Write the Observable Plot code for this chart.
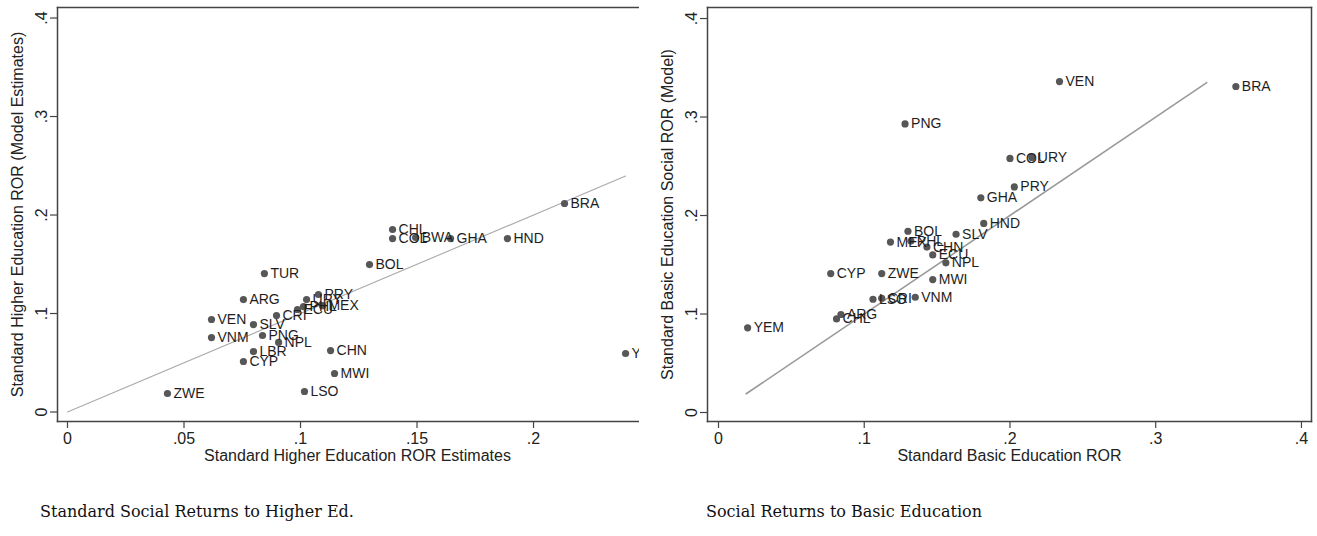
<!DOCTYPE html>
<html>
<head>
<meta charset="utf-8">
<script src="https://cdn.jsdelivr.net/npm/d3@7"></script>
<script src="https://cdn.jsdelivr.net/npm/@observablehq/plot@0.6"></script>
<style>
  html, body { margin: 0; padding: 0; background: #fff; width: 1317px; height: 536px; overflow: hidden; }
  #left { position: absolute; left: 0; top: 0; width: 639px; height: 480px; overflow: hidden; }
  #right { position: absolute; left: 660px; top: 0; width: 657px; height: 480px; overflow: hidden; }
  #left svg, #right svg { max-width: none !important; display: block; }
  .cap { position: absolute; font-family: "DejaVu Serif", serif; font-size: 16px; color: #111; white-space: nowrap; }
</style>
</head>
<body>
<div id="left"></div>
<div id="right"></div>
<div class="cap" style="left:40px; top:502px;">Standard Social Returns to Higher Ed.</div>
<div class="cap" style="left:706px; top:502px;">Social Returns to Basic Education</div>
<script>
// ---- Left panel: Higher education ----
const leftCountries = ["ZWE","LSO","MWI","CHN","CYP","LBR","NPL","PNG","VNM","VEN","SLV","CRI","ECU","PHL","MEX","URY","PRY","ARG","TUR","BOL","CHL","COL","BWA","GHA","HND","BRA","YEM"];
const leftX = [0.0429,0.1017,0.1146,0.1129,0.0755,0.0798,0.0906,0.0837,0.0618,0.0618,0.0798,0.0897,0.0987,0.1013,0.1094,0.1026,0.1077,0.0755,0.0845,0.1296,0.1395,0.1395,0.1494,0.1644,0.1888,0.2133,0.2395];
const leftY = [0.0188,0.0208,0.0391,0.0624,0.0513,0.0614,0.0706,0.0777,0.0756,0.0939,0.0888,0.0980,0.1041,0.1070,0.1080,0.1142,0.1193,0.1142,0.1406,0.1497,0.1853,0.1761,0.1772,0.1761,0.1761,0.2117,0.0594];
const leftXTicks = [0, 0.05, 0.1, 0.15, 0.2, 0.25];
const leftLineX = [0, 0.2395];
const leftLineY = [0, 0.2395];
const leftXTitle = "Standard Higher Education ROR Estimates";
const leftYTitle = "Standard Higher Education ROR (Model Estimates)";

// ---- Right panel: Basic education ----
const rightCountries = ["VEN","BRA","PNG","COL","URY","PRY","GHA","HND","SLV","BOL","PHL","MEX","CHN","ECU","NPL","CYP","ZWE","MWI","LSO","CRI","VNM","ARG","CHL","YEM"];
const rightX = [0.234,0.355,0.128,0.200,0.215,0.203,0.180,0.182,0.163,0.130,0.132,0.118,0.143,0.147,0.156,0.077,0.112,0.147,0.106,0.112,0.135,0.084,0.081,0.020];
const rightY = [0.336,0.331,0.293,0.258,0.259,0.229,0.218,0.192,0.181,0.184,0.174,0.173,0.168,0.160,0.152,0.141,0.141,0.135,0.115,0.116,0.117,0.0995,0.095,0.086];
const rightXTicks = [0, 0.1, 0.2, 0.3, 0.4];
const rightLineX = [0.019, 0.335];
const rightLineY = [0.019, 0.335];
const rightXTitle = "Standard Basic Education ROR";
const rightYTitle = "Standard Basic Education Social ROR (Model)";

const yTicks = [0, 0.1, 0.2, 0.3, 0.4];

const fmt = d => d === 0 ? "0" : String(+d.toFixed(3)).replace(/^0\./, ".");

function panel({countries, xs, ys, xTicks, lineX, lineY, xTitle, yTitle, width, marginLeft, marginRight, xDomain, yDomain, lineColor, lineWidth, sides}) {
  const pts = countries.map((c, i) => ({c, x: xs[i], y: ys[i]}));
  const line = lineX.map((x, i) => ({x, y: lineY[i]}));
  return Plot.plot({
    width, height: 480,
    marginLeft, marginRight, marginTop: 7, marginBottom: 59,
    style: {fontFamily: "Liberation Sans, Arial, sans-serif", background: "#fff", color: "#222", maxWidth: "none"},
    x: {domain: xDomain},
    y: {domain: yDomain},
    marks: [
      Plot.line(line, {x: "x", y: "y", stroke: lineColor, strokeWidth: lineWidth}),
      Plot.dot(pts, {x: "x", y: "y", r: 3.6, fill: "#575757", stroke: "none"}),
      Plot.text(pts, {x: "x", y: "y", text: "c", dx: 6, textAnchor: "start", fontSize: 14, fill: "#1e1e1e"}),
      Plot.axisX({ticks: xTicks, tickFormat: fmt, tickSize: 7, tickPadding: 4, fontSize: 16, label: null, stroke: "#444", strokeWidth: 1.2, fill: "#222"}),
      Plot.axisY({ticks: yTicks, tickFormat: fmt, tickSize: 7, tickPadding: 4, tickRotate: -90, fontSize: 16, label: null, stroke: "#444", strokeWidth: 1.2, fill: "#222"}),
      Plot.text([xTitle], {text: d => d, frameAnchor: "bottom", textAnchor: "middle", dy: 39, fontSize: 16, fill: "#222"}),
      Plot.text([yTitle], {text: d => d, frameAnchor: "left", textAnchor: "middle", dx: -40, rotate: -90, fontSize: 16, fill: "#222"}),
      ...sides.map(s => Plot.frame({anchor: s, stroke: "#444", strokeWidth: 1.5}))
    ]
  });
}

document.getElementById("left").appendChild(panel({
  countries: leftCountries, xs: leftX, ys: leftY, xTicks: leftXTicks,
  lineX: leftLineX, lineY: leftLineY, xTitle: leftXTitle, yTitle: leftYTitle,
  width: 680, marginLeft: 57, marginRight: 23,
  xDomain: [-0.00429, 0.2532], yDomain: [-0.00964, 0.4107],
  lineColor: "#aaaaaa", lineWidth: 1.1, sides: ["top", "left", "bottom"]
}));

document.getElementById("right").appendChild(panel({
  countries: rightCountries, xs: rightX, ys: rightY, xTicks: rightXTicks,
  lineX: rightLineX, lineY: rightLineY, xTitle: rightXTitle, yTitle: rightYTitle,
  width: 657, marginLeft: 47, marginRight: 6,
  xDomain: [-0.00755, 0.4069], yDomain: [-0.00914, 0.4112],
  lineColor: "#9a9a9a", lineWidth: 1.6, sides: ["top", "left", "bottom", "right"]
}));
</script>
</body>
</html>
